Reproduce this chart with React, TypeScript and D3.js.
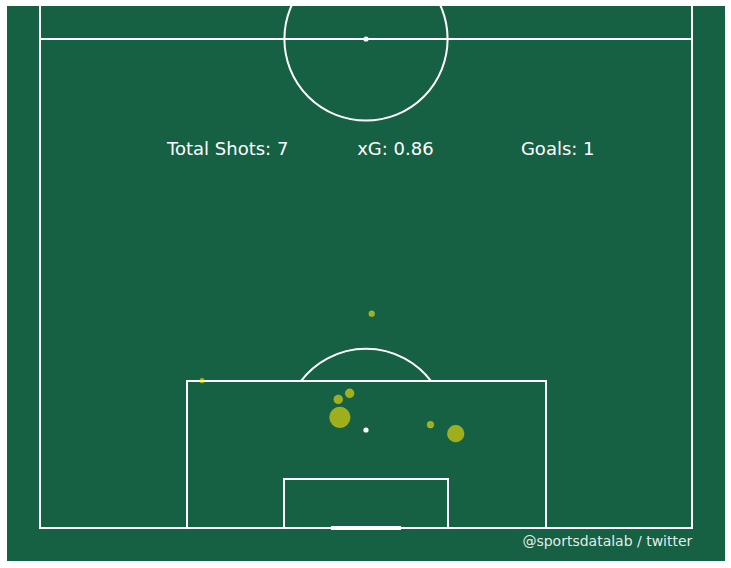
import React from 'react';
import * as d3 from 'd3';

// shot locations in statsbomb coords (across 0-80, length 0-120), goal at bottom
const shotAcross = [40.7, 19.9, 36.6, 38.0, 36.8, 47.9, 51.0];
const shotLength = [93.7, 101.9, 104.2, 103.45, 106.4, 107.3, 108.4];
const shotXg = [0.03, 0.02, 0.07, 0.07, 0.38, 0.04, 0.25];
const shotOutcome = ['Saved', 'Off T', 'Blocked', 'Blocked', 'Goal', 'Off T', 'Saved'];

const W = 731;
const H = 568;
const BG = '#166044';
const LINE = '#ffffff';
const DOT = '#ffe600';

const App = () => {
  const x = d3.scaleLinear().domain([-4, 84]).range([7, 725]);
  const y = d3.scaleLinear().domain([56, 124]).range([6, 561]);
  const k = x(1) - x(0);
  const r = d3.scaleSqrt().domain([0, 1]).range([0, 16.7]);

  // snap pitch lines to whole pixels so 2px strokes stay crisp
  const sx = (v: number) => Math.round(x(v));
  const sy = (v: number) => Math.round(y(v));

  const shots = shotAcross.map((a, i) => ({
    across: a,
    length: shotLength[i],
    xg: shotXg[i],
    outcome: shotOutcome[i],
  }));
  const totalXg = d3.sum(shots, d => d.xg);
  const goals = shots.filter(d => d.outcome === 'Goal').length;

  const rect = (a0: number, l0: number, a1: number, l1: number) =>
    `M${sx(a0)},${sy(l0)}H${sx(a1)}V${sy(l1)}H${sx(a0)}Z`;

  // penalty arc, only the part outside the box
  const theta = Math.acos(6 / 10);
  const arc = d3.path();
  arc.arc(sx(40), y(108), 10 * k, -Math.PI / 2 - theta, -Math.PI / 2 + theta);

  const font = '"DejaVu Sans", sans-serif';

  return (
    <svg width={W} height={H} style={{ position: 'absolute', left: 0, top: 0 }}>
      <defs>
        <clipPath id="view">
          <rect x={x(-4)} y={y(56)} width={x(84) - x(-4)} height={y(124) - y(56)} />
        </clipPath>
      </defs>
      <rect x={x(-4)} y={y(56)} width={x(84) - x(-4)} height={y(124) - y(56)} fill={BG} />
      <g clipPath="url(#view)" fill="none" stroke={LINE} strokeWidth={2}>
        <path d={rect(0, 0, 80, 120)} />
        <line x1={sx(0)} x2={sx(80)} y1={sy(60)} y2={sy(60)} />
        <circle cx={sx(40)} cy={sy(60)} r={10 * k} />
        <path d={rect(18, 102, 62, 120)} />
        <path d={rect(30, 114, 50, 120)} />
        <path d={arc.toString()} />
        <line x1={sx(36)} x2={sx(44)} y1={sy(120)} y2={sy(120)} strokeWidth={4} strokeLinecap="square" />
        <circle cx={sx(40)} cy={sy(60)} r={2.6} fill={LINE} stroke="none" />
        <circle cx={sx(40)} cy={sy(108)} r={2.6} fill={LINE} stroke="none" />
      </g>
      <g>
        {shots.map((d, i) => (
          <circle
            key={i}
            cx={x(d.across)}
            cy={y(d.length)}
            r={r(d.xg)}
            fill={DOT}
            fillOpacity={0.59}
            stroke={DOT}
            strokeOpacity={0.3}
            strokeWidth={1}
          />
        ))}
      </g>
      <g fontFamily={font} fontSize={18} fill="#ffffff" textAnchor="middle">
        <text x={x(23.05)} y={y(74.25)}>{`Total Shots: ${shots.length}`}</text>
        <text x={x(43.6)} y={y(74.25)}>{`xG: ${totalXg.toFixed(2)}`}</text>
        <text x={x(63.5)} y={y(74.25)}>{`Goals: ${goals}`}</text>
      </g>
      <text
        x={x(80)}
        y={546}
        textAnchor="end"
        fontFamily={font}
        fontSize={14}
        fill="#ffffff"
        fillOpacity={0.9}
      >
        @sportsdatalab / twitter
      </text>
    </svg>
  );
};

export default App;
